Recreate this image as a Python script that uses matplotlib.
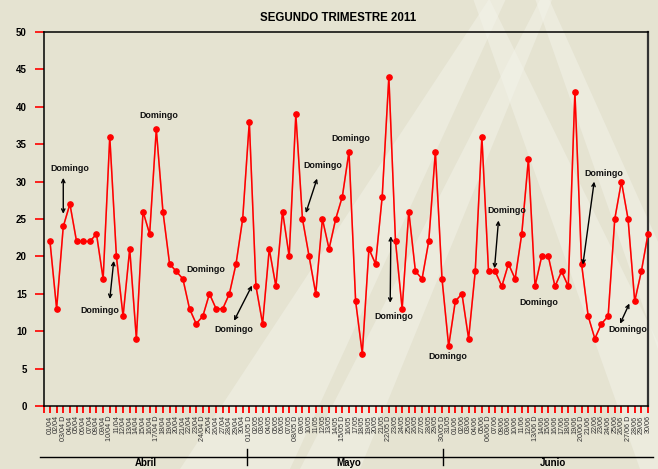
import matplotlib
matplotlib.use("Agg")
import matplotlib.pyplot as plt
from matplotlib.patches import Polygon
from matplotlib.transforms import blended_transform_factory

# ---------------- data ----------------
april = [22, 13, 24, 27, 22, 22, 22, 23, 17, 36, 20, 12, 21, 9, 26, 23, 37, 26, 19, 18,
         17, 13, 11, 12, 15, 13, 13, 15, 19, 25]
may = [38, 16, 11, 21, 16, 26, 20, 39, 25, 20, 15, 25, 21, 25, 28, 34, 14, 7, 21, 19,
       28, 44, 22, 13, 26, 18, 17, 22, 34, 17, 8]
june = [14, 15, 9, 18, 36, 18, 18, 16, 19, 17, 23, 33, 16, 20, 20, 16, 18, 16, 42, 19,
        12, 9, 11, 12, 25, 30, 25, 14, 18, 23]
values = april + may + june

sunday_labels = ["03/04", "10/04", "17/04", "24/04", "01/05", "08/05", "15/05",
                 "22/05", "30/05", "06/06", "13/06", "20/06", "27/06"]
day_labels = ([f"{d:02d}/04" for d in range(1, 31)] +
              [f"{d:02d}/05" for d in range(1, 32)] +
              [f"{d:02d}/06" for d in range(1, 31)])
tick_labels = [lab + " D" if lab in sunday_labels else lab for lab in day_labels]

months = ["Abril", "Mayo", "Junio"]
title = "SEGUNDO TRIMESTRE 2011"

# annotations: (text_x, text_y, arrow (x1, y1, x2, y2) or None) in data units
notes = [
    (3.0, 31.8, (2.0, 30.5, 2.0, 25.7)),
    (16.4, 38.9, None),
    (7.5, 12.8, (9.6, 19.4, 9.0, 14.3)),
    (23.5, 18.3, None),
    (27.7, 10.2, (30.4, 16.1, 27.7, 11.4)),
    (41.1, 32.1, (40.2, 30.4, 38.5, 25.8)),
    (45.2, 35.8, None),
    (51.8, 12.0, (51.3, 22.7, 51.2, 13.8)),
    (59.8, 6.6, None),
    (68.8, 26.1, (67.5, 24.8, 66.9, 18.4)),
    (73.6, 13.9, None),
    (83.4, 31.1, (81.9, 30.0, 80.2, 18.9)),
    (87.0, 10.2, (87.2, 13.7, 85.8, 11.0)),
]

# ---------------- figure ----------------
W, H = 658, 469
BG = "#E5E3D1"
LIGHT = "#F3F3EA"
fig = plt.figure(figsize=(W / 100, H / 100), dpi=100, facecolor=BG)

# background decoration (light beams) on its own axes behind everything
bg = fig.add_axes([0, 0, 1, 1], zorder=-5)
bg.set_xlim(0, W)
bg.set_ylim(H, 0)
bg.axis("off")
beams = [
    [(495, -10), (510, -10), (290, 469), (180, 469)],
    [(545, -10), (556, -10), (360, 469), (300, 469)],
    [(470, -10), (485, -10), (720, 469), (640, 469)],
    [(532, -10), (545, -10), (760, 469), (700, 469)],
]
for b in beams:
    bg.add_patch(Polygon(b, closed=True, facecolor=LIGHT, edgecolor="none", alpha=0.5))

ax = fig.add_axes([44 / W, 1 - 406 / H, (648 - 44) / W, (406 - 32) / H], zorder=1)
ax.set_facecolor("none")

x = list(range(len(values)))
# faint spikes at sharp peaks
ax.plot(x, values, color="#FF0000", lw=1.1, alpha=0.3,
        solid_joinstyle="miter", zorder=2, clip_on=False)
ax.plot(x, values, color="#FF0000", lw=1.1, marker="o", markersize=3.8,
        solid_joinstyle="round", zorder=3, clip_on=False)

ax.set_xlim(-0.9, len(values) - 1)
ax.set_ylim(0, 50)
ax.set_yticks(range(0, 51, 5))
ax.set_yticklabels([str(v) for v in range(0, 51, 5)], fontsize=7, fontweight="bold",
                   family="Liberation Sans")
ax.tick_params(axis="y", colors="#FF0000", length=6.5, width=1.2, pad=6, labelcolor="black")

ax.set_xticks(x)
ax.set_xticklabels(tick_labels, rotation=90, fontsize=5.2, family="Liberation Sans",
                   color="#333333")
ax.set_xticks([-0.9], minor=True)
ax.tick_params(axis="x", which="both", colors="#FF0000", length=5.2, width=1.3, pad=1.5,
               labelcolor="#333333")

for s in ["left", "bottom", "top"]:
    ax.spines[s].set_color("black")
    ax.spines[s].set_linewidth(1.1)
ax.spines["right"].set_color("#333333")
ax.spines["right"].set_linewidth(1.6)

fig.text(338 / W, 1 - 18 / H, title, ha="center", va="center", fontsize=8.3,
         fontweight="bold", family="Liberation Sans")

for tx, ty, arr in notes:
    ax.text(tx, ty, "Domingo", ha="center", va="center", fontsize=6.4,
            fontweight="bold", family="Liberation Sans", color="#111111", zorder=4)
    if arr is not None:
        x1, y1, x2, y2 = arr
        ax.annotate("", xy=(x2, y2), xytext=(x1, y1),
                    arrowprops=dict(arrowstyle="<->", color="black", lw=1.0,
                                    mutation_scale=6, shrinkA=0, shrinkB=0), zorder=4)

# month separator axis
tr = blended_transform_factory(ax.transData, ax.transAxes)
ax.plot([-1.5, 90.7], [-0.136, -0.136], color="black", lw=1.0, transform=tr, clip_on=False)
for sep in [29.65, 59.1]:
    ax.plot([sep, sep], [-0.116, -0.157], color="black", lw=1.0, transform=tr, clip_on=False)
for mx, name in zip([14.4, 44.9, 75.7], months):
    ax.text(mx, -0.1655, name, ha="center", va="bottom", fontsize=7, fontweight="bold",
            family="Liberation Sans", transform=tr, clip_on=False)

fig.savefig("out.png", dpi=100, facecolor=BG)
